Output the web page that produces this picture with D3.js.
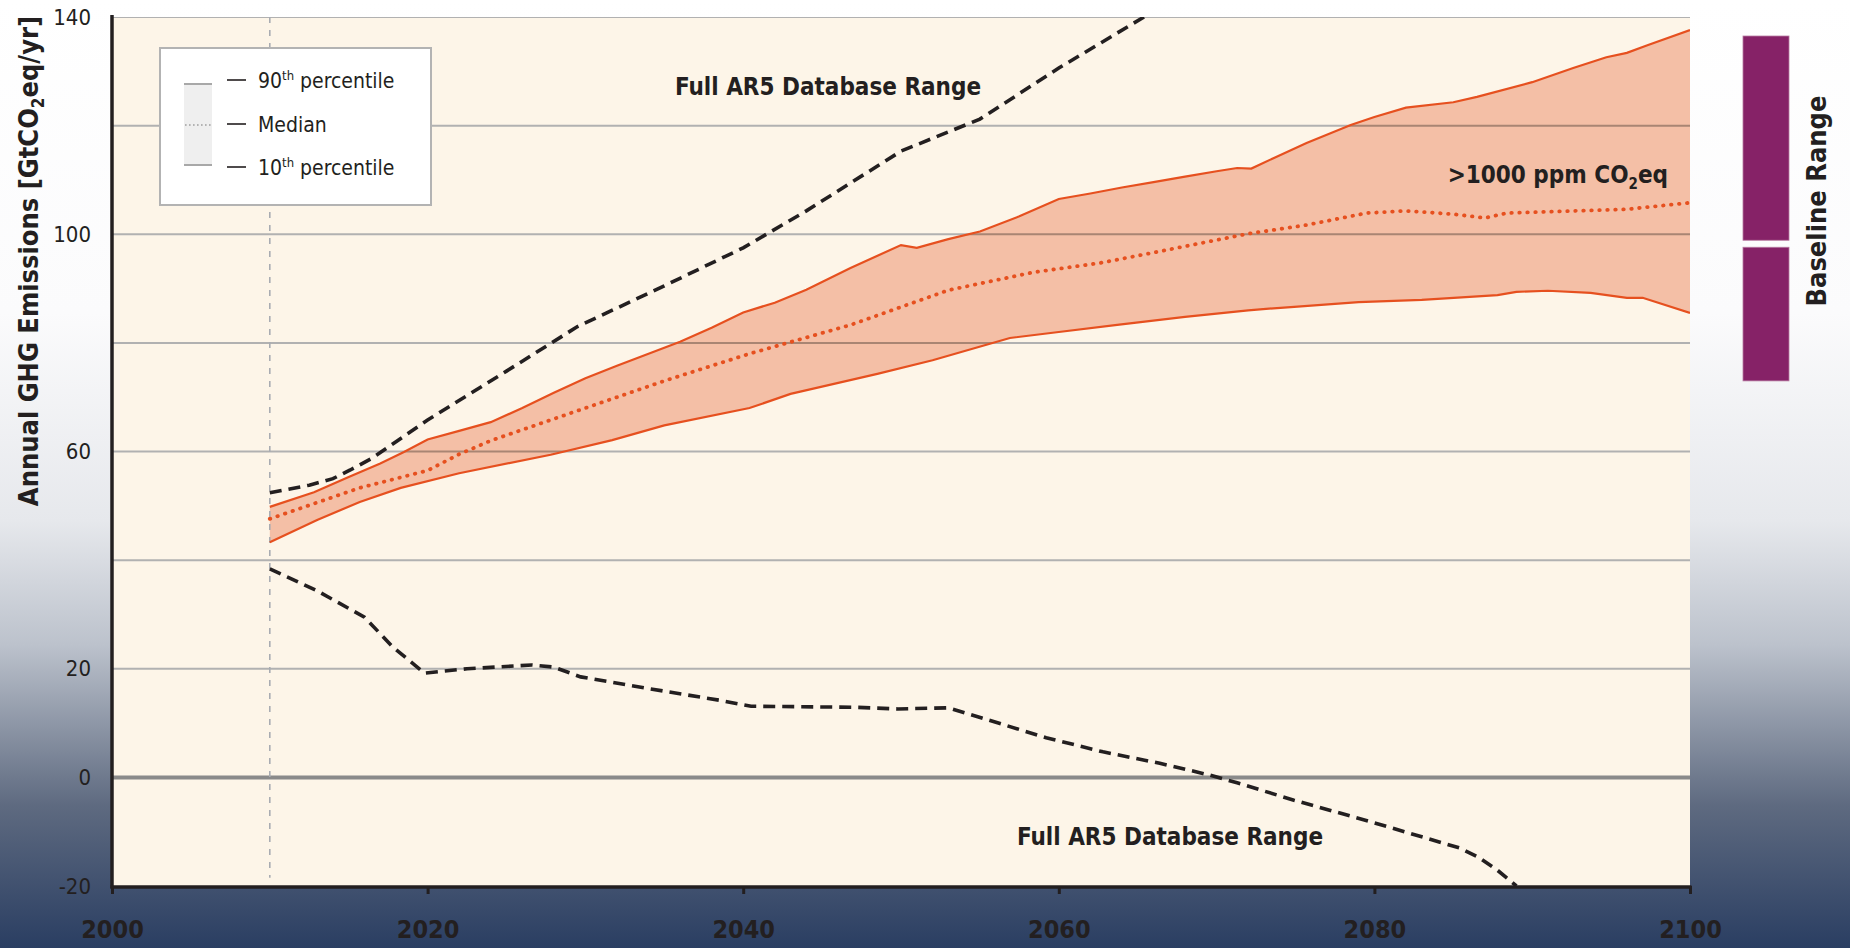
<!DOCTYPE html>
<html lang="en">
<head>
<meta charset="utf-8">
<title>Annual GHG emissions, baseline scenarios</title>
<script src="https://cdn.jsdelivr.net/npm/d3@7"></script>
<style>
  body { margin: 0; }
  svg text { font-family: "Liberation Sans Narrow", "DejaVu Sans Condensed", Roboto, sans-serif; fill: #231f20; }
</style>
</head>
<body>
<script>
// 90th percentile
var p90Years  = [2010, 2012.8, 2015, 2017, 2018.5, 2020, 2022, 2024, 2026, 2028, 2030, 2032, 2034, 2036, 2038, 2040, 2042, 2044, 2046.8, 2050, 2051, 2053, 2055, 2057.5, 2060, 2062, 2064, 2066, 2068, 2070, 2071.3, 2072.2, 2073.6, 2075.7, 2078.5, 2080, 2082, 2085, 2086.5, 2090, 2092.6, 2094.7, 2096, 2097.3, 2100];
var p90Values = [49.8, 52.5, 55.3, 57.8, 59.9, 62.2, 63.8, 65.4, 68.0, 70.8, 73.5, 75.8, 78.0, 80.2, 82.8, 85.6, 87.4, 89.8, 93.8, 98.0, 97.5, 99.1, 100.5, 103.3, 106.5, 107.5, 108.6, 109.6, 110.6, 111.6, 112.2, 112.1, 114.0, 116.8, 120.1, 121.6, 123.3, 124.3, 125.3, 128.0, 130.6, 132.6, 133.4, 134.8, 137.6];
// median
var p50Years  = [2010, 2015.7, 2020, 2022, 2024, 2030, 2035, 2040.4, 2046.8, 2053, 2058.4, 2062.6, 2065.8, 2072, 2075.7, 2079.5, 2082, 2085, 2087, 2088.4, 2092.6, 2096, 2100];
var p50Values = [47.6, 53.3, 56.5, 59.5, 62.0, 68.0, 73.0, 78.0, 83.3, 89.7, 93.0, 94.7, 96.5, 100.1, 101.7, 103.9, 104.3, 103.7, 103.0, 103.9, 104.3, 104.6, 105.8];
// 10th percentile
var p10Years  = [2010, 2013, 2015.7, 2018.3, 2022, 2027.8, 2031.7, 2035, 2040.4, 2043, 2048.5, 2052, 2056.9, 2060, 2063.7, 2068, 2072, 2074.7, 2079, 2083, 2087.8, 2089, 2091, 2093.7, 2096, 2097, 2100];
var p10Values = [43.3, 47.4, 50.7, 53.3, 56.0, 59.4, 62.1, 64.8, 68.0, 70.6, 74.3, 76.8, 80.9, 82.0, 83.3, 84.8, 86.0, 86.6, 87.5, 87.9, 88.8, 89.4, 89.6, 89.2, 88.3, 88.3, 85.5];
// full AR5 database range, upper edge
var maxYears  = [2010, 2012.5, 2014, 2015.1, 2016.5, 2018, 2020, 2025, 2029.5, 2035, 2040, 2044, 2050, 2055, 2060, 2065.4];
var maxValues = [52.4, 53.8, 55.0, 56.6, 58.8, 61.8, 65.8, 74.8, 83.0, 90.5, 97.5, 104.3, 115.3, 121.2, 130.6, 140];
// full AR5 database range, lower edge
var minYears  = [2010, 2012.9, 2016, 2017.8, 2019.8, 2022.5, 2026.6, 2028, 2029.7, 2034.1, 2038.5, 2040.5, 2047.2, 2049.8, 2053, 2055.5, 2059.2, 2062.8, 2066.4, 2069.6, 2071.3, 2074.9, 2079.8, 2085.4, 2086.6, 2087.8, 2089];
var minValues = [38.4, 34.5, 29.5, 24.0, 19.2, 20.0, 20.7, 20.3, 18.5, 16.3, 14.2, 13.1, 12.9, 12.6, 12.8, 10.6, 7.3, 4.7, 2.6, 0.4, -1.0, -4.2, -8.2, -13.0, -14.7, -17.1, -20];
// baseline range bar: min, median, max
var baselineRange = [73, 98.25, 136.5];

var xTicks = [2000, 2020, 2040, 2060, 2080, 2100];
var yTickLabels = [140, 100, 60, 20, 0, -20];
var yGrid = [140, 120, 100, 80, 60, 40, 20];

var W = 1850, H = 948;
var x = d3.scaleLinear().domain([2000, 2100]).range([112, 1690]);
var y = d3.scaleLinear().domain([-20, 140]).range([886, 17]);

var svg = d3.select("body").append("svg").attr("width", W).attr("height", H);

var defs = svg.append("defs");
var grad = defs.append("linearGradient").attr("id", "bg").attr("x1", 0).attr("y1", 0).attr("x2", 0).attr("y2", 1);
[[0, "#ffffff"], [0.33, "#fbfbfc"], [0.55, "#e6e8ec"], [0.68, "#bcc2cc"], [0.85, "#5e6a80"], [1, "#2a3e62"]].forEach(function (s) {
  grad.append("stop").attr("offset", s[0]).attr("stop-color", s[1]);
});
defs.append("clipPath").attr("id", "plotclip").append("rect")
  .attr("x", x(2000)).attr("y", y(140)).attr("width", x(2100) - x(2000)).attr("height", y(-20) - y(140));

svg.append("rect").attr("width", W).attr("height", H).attr("fill", "url(#bg)");

// plot background
svg.append("rect")
  .attr("x", x(2000)).attr("y", y(140))
  .attr("width", x(2100) - x(2000)).attr("height", y(-20) - y(140))
  .attr("fill", "#fdf5e8");

var plot = svg.append("g").attr("clip-path", "url(#plotclip)");

function pts(xs, vs) { return xs.map(function (d, i) { return [d, vs[i]]; }); }
var line = d3.line().x(function (d) { return x(d[0]); }).y(function (d) { return y(d[1]); });

// 10-90 band
var band = pts(p90Years, p90Values).concat(pts(p10Years, p10Values).reverse());
plot.append("path").attr("d", line(band) + "Z").attr("fill", "#f4bfa6");

// gridlines
plot.selectAll(".grid").data(yGrid).enter().append("line")
  .attr("x1", x(2000)).attr("x2", x(2100))
  .attr("y1", function (d) { return y(d); }).attr("y2", function (d) { return y(d); })
  .attr("stroke", "#b1b1b1").attr("stroke-width", 2)
  .style("mix-blend-mode", "multiply");

// zero line
plot.append("line")
  .attr("x1", x(2000)).attr("x2", x(2100)).attr("y1", y(0)).attr("y2", y(0))
  .attr("stroke", "#8a8a8a").attr("stroke-width", 4);

// 2010 marker
plot.append("line")
  .attr("x1", x(2010)).attr("x2", x(2010)).attr("y1", y(140)).attr("y2", y(-18.5))
  .attr("stroke", "#a9acb2").attr("stroke-width", 1.6).attr("stroke-dasharray", "6 7");

// percentile lines
[[p90Years, p90Values], [p10Years, p10Values]].forEach(function (s) {
  plot.append("path").attr("d", line(pts(s[0], s[1])))
    .attr("fill", "none").attr("stroke", "#e6501f").attr("stroke-width", 2.2);
});
plot.append("path").attr("d", line(pts(p50Years, p50Values)))
  .attr("fill", "none").attr("stroke", "#e6501f").attr("stroke-width", 3.8)
  .attr("stroke-linecap", "round").attr("stroke-dasharray", "0.5 7.5");

// full database range
[[maxYears, maxValues], [minYears, minValues]].forEach(function (s) {
  plot.append("path").attr("d", line(pts(s[0], s[1])))
    .attr("fill", "none").attr("stroke", "#231f20").attr("stroke-width", 3.6)
    .attr("stroke-dasharray", "12 7");
});

// axes
var yAxis = svg.append("g").attr("transform", "translate(" + x(2000) + ",0)")
  .call(d3.axisLeft(y).tickValues(yTickLabels).tickSize(0).tickPadding(21).tickFormat(function (d) { return String(d); }));
yAxis.select(".domain").remove();
yAxis.selectAll("text").style("font-size", "22px").attr("fill", "#231f20");

var xAxis = svg.append("g").attr("transform", "translate(0," + y(-20) + ")")
  .call(d3.axisBottom(x).tickValues(xTicks).tickSize(8).tickPadding(26).tickFormat(function (d) { return String(d); }));
xAxis.select(".domain").remove();
xAxis.selectAll("line").attr("stroke", "#231f20").attr("stroke-width", 3);
xAxis.selectAll("text").style("font-size", "25px").style("font-weight", "bold").attr("fill", "#231f20");

svg.append("line").attr("x1", x(2000) - 1.5).attr("x2", x(2100) + 1.5).attr("y1", y(-20) + 1).attr("y2", y(-20) + 1)
  .attr("stroke", "#231f20").attr("stroke-width", 3.5);
svg.append("line").attr("x1", x(2000)).attr("x2", x(2000)).attr("y1", y(140) - 2).attr("y2", y(-20) + 2.5)
  .attr("stroke", "#231f20").attr("stroke-width", 3.5);

// y axis title
var yt = svg.append("text")
  .attr("transform", "translate(38," + 261 + ") rotate(-90)")
  .attr("text-anchor", "middle").style("font-size", "27px").style("font-weight", "bold");
yt.append("tspan").text("Annual GHG Emissions [GtCO");
yt.append("tspan").text("2").style("font-size", "17px").attr("dy", 6);
yt.append("tspan").text("eq/yr]").attr("dy", -6);

// annotations
svg.append("text").attr("x", 828).attr("y", 95).attr("text-anchor", "middle")
  .style("font-size", "24px").style("font-weight", "bold").text("Full AR5 Database Range");
svg.append("text").attr("x", 1170).attr("y", 845).attr("text-anchor", "middle")
  .style("font-size", "24px").style("font-weight", "bold").text("Full AR5 Database Range");
var pp = svg.append("text").attr("x", 1668).attr("y", 183).attr("text-anchor", "end")
  .style("font-size", "24px").style("font-weight", "bold");
pp.append("tspan").text(">1000 ppm CO");
pp.append("tspan").text("2").style("font-size", "15px").attr("dy", 6);
pp.append("tspan").text("eq").attr("dy", -6);

// legend
var lg = svg.append("g");
lg.append("rect").attr("x", 160).attr("y", 48).attr("width", 271).attr("height", 157)
  .attr("fill", "#ffffff").attr("stroke", "#b3b3b3").attr("stroke-width", 2);
lg.append("rect").attr("x", 184).attr("y", 84).attr("width", 28).attr("height", 81).attr("fill", "#efefef");
[84, 165].forEach(function (yy) {
  lg.append("line").attr("x1", 184).attr("x2", 212).attr("y1", yy).attr("y2", yy)
    .attr("stroke", "#a8a8a8").attr("stroke-width", 2);
});
lg.append("line").attr("x1", 185).attr("x2", 212).attr("y1", 125).attr("y2", 125)
  .attr("stroke", "#a0a0a0").attr("stroke-width", 1.6).attr("stroke-dasharray", "1.6 2.4");
var legendRows = [["90", "th", " percentile", 81], ["Median", "", "", 125], ["10", "th", " percentile", 168]];
legendRows.forEach(function (r) {
  lg.append("line").attr("x1", 227).attr("x2", 246).attr("y1", r[3] - 1).attr("y2", r[3] - 1)
    .attr("stroke", "#231f20").attr("stroke-width", 1.6);
  var t = lg.append("text").attr("x", 258).attr("y", r[3] + 7).style("font-size", "21px");
  t.append("tspan").text(r[0]);
  if (r[1]) {
    t.append("tspan").text(r[1]).style("font-size", "13px").attr("dy", -8);
    t.append("tspan").text(r[2]).attr("dy", 8);
  }
});

// baseline range bar
var barX = 1743, barW = 46, gap = 3.5;
svg.append("rect").attr("x", barX).attr("y", y(baselineRange[2]))
  .attr("width", barW).attr("height", y(baselineRange[1]) - y(baselineRange[2]) - gap)
  .attr("fill", "#862267").attr("stroke", "#b77aa0").attr("stroke-width", 0.8);
svg.append("rect").attr("x", barX).attr("y", y(baselineRange[1]) + gap)
  .attr("width", barW).attr("height", y(baselineRange[0]) - y(baselineRange[1]) - gap)
  .attr("fill", "#862267").attr("stroke", "#b77aa0").attr("stroke-width", 0.8);
svg.append("text")
  .attr("transform", "translate(1826," + 201 + ") rotate(-90)")
  .attr("text-anchor", "middle").style("font-size", "27px").style("font-weight", "bold")
  .text("Baseline Range");
</script>
</body>
</html>
